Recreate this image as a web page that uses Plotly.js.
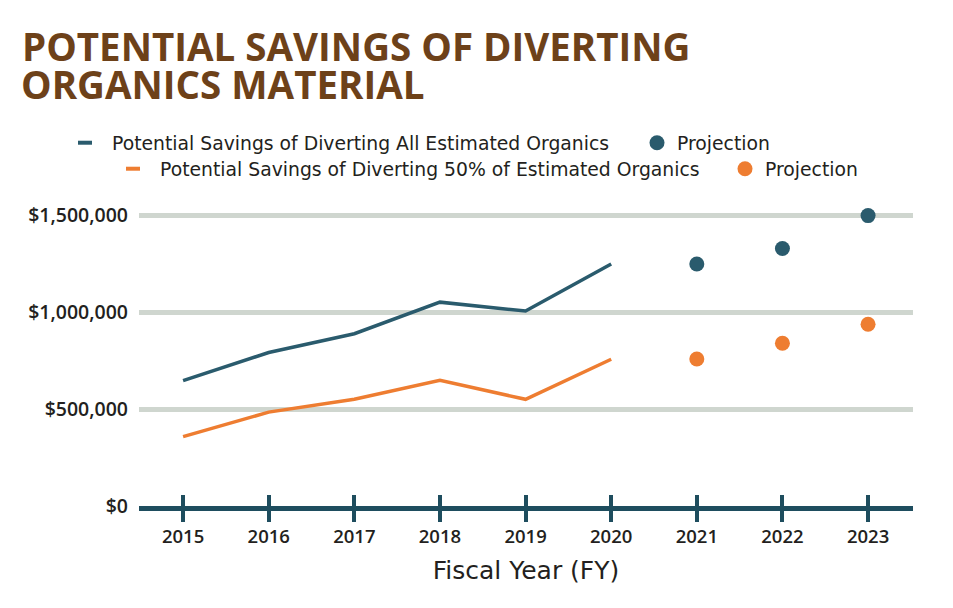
<!DOCTYPE html>
<html>
<head>
<meta charset="utf-8">
<script src="https://cdn.plot.ly/plotly-3.0.1.min.js"></script>
<style>
  html, body { margin: 0; padding: 0; background: #fff; }
  #plotDiv { width: 953px; height: 608px; }
</style>
</head>
<body>
<div id="plotDiv"></div>
<script>
// Chart data
const histYears = [2015, 2016, 2017, 2018, 2019, 2020];
const allOrganics = [648000, 793000, 890000, 1053000, 1007000, 1250000];
const halfOrganics = [358000, 485000, 551000, 649000, 551000, 758000];

const projYears = [2021, 2022, 2023];
const allProjection = [1250000, 1330000, 1500000];
const halfProjection = [759000, 841000, 939000];

const yearTicks = [2015, 2016, 2017, 2018, 2019, 2020, 2021, 2022, 2023];
const dollarTicks = [0, 500000, 1000000, 1500000];

const seriesNames = [
  "Potential Savings of Diverting All Estimated Organics",
  "Potential Savings of Diverting 50% of Estimated Organics",
];
const titleLines = ["POTENTIAL SAVINGS OF DIVERTING", "ORGANICS MATERIAL"];

// Colors
const blue = "#2a5b6d";
const orange = "#ee7d31";
const axisColor = "#1e4d5e";
const textColor = "#231f20";
const brown = "#6d4119";

const titleFont = { family: "Open Sans", size: 38.5, color: brown, weight: 700 };
const xTickFont = { family: "Open Sans", size: 18.5, color: textColor, weight: 600 };
const yTickFont = { family: "Open Sans", size: 19.5, color: textColor, weight: 600 };

let traces = [
  // actual lines
  {
    x: histYears, y: allOrganics, mode: "lines", type: "scatter",
    line: { color: blue, width: 3.5 }, showlegend: false,
  },
  {
    x: histYears, y: halfOrganics, mode: "lines", type: "scatter",
    line: { color: orange, width: 3.5 }, showlegend: false,
  },
  // projections (on the overlaid axis that carries the upper half of the ticks)
  {
    x: projYears, y: allProjection, mode: "markers", type: "scatter", xaxis: "x2",
    marker: { color: blue, size: 15 }, cliponaxis: false,
    name: "Projection", legend: "legend2",
  },
  {
    x: projYears, y: halfProjection, mode: "markers", type: "scatter", xaxis: "x2",
    marker: { color: orange, size: 15 }, cliponaxis: false,
    name: "Projection", legend: "legend4",
  },
  // short dash legend keys for the lines
  {
    x: [null], y: [null], mode: "markers", type: "scatter",
    marker: { symbol: "line-ew", size: 10, line: { color: blue, width: 4 } },
    name: seriesNames[0], legend: "legend",
  },
  {
    x: [null], y: [null], mode: "markers", type: "scatter",
    marker: { symbol: "line-ew", size: 10, line: { color: orange, width: 4 } },
    name: seriesNames[1], legend: "legend3",
  },
];

// px, py = centre of the legend key in the picture
function legendAt(px, py, itemwidth) {
  let iw = itemwidth || 30;
  return {
    xref: "container", yref: "container",
    x: (px - iw / 2 - 5) / 953, y: 1 - py / 608,
    xanchor: "left", yanchor: "middle",
    orientation: "h",
    itemwidth: iw,
    bgcolor: "rgba(0,0,0,0)",
    font: { family: "DejaVu Sans", size: 18.8, color: textColor },
  };
}

let xRange = [2014.485, 2023.525];

let layout = {
  width: 953,
  height: 608,
  paper_bgcolor: "#fff",
  plot_bgcolor: "#fff",
  margin: { l: 139, r: 40, t: 204, b: 102 },
  title: {
    text: titleLines[0],
    xref: "container", yref: "container",
    x: 22 / 953, xanchor: "left",
    y: 1 - 47.5 / 608, yanchor: "middle",
    font: titleFont,
  },
  annotations: [
    {
      text: titleLines[1],
      xref: "paper", yref: "paper",
      x: (19 - 139) / 774, xanchor: "left",
      y: (506 - 84.5) / 302, yanchor: "middle",
      showarrow: false,
      font: titleFont,
    },
  ],
  xaxis: {
    range: xRange,
    tickvals: yearTicks,
    ticks: "outside", ticklen: 11, tickwidth: 4, tickcolor: axisColor,
    showline: true, linecolor: axisColor, linewidth: 5,
    showgrid: false, zeroline: false,
    tickfont: xTickFont,
    ticklabelstandoff: -1,
    title: {
      text: "Fiscal Year (FY)",
      font: { family: "DejaVu Sans", size: 25, color: textColor },
      standoff: 16,
    },
  },
  xaxis2: {
    range: xRange,
    overlaying: "x", anchor: "y", side: "bottom",
    tickvals: yearTicks,
    ticks: "inside", ticklen: 11, tickwidth: 4, tickcolor: axisColor,
    showticklabels: false, showline: false, showgrid: false, zeroline: false,
  },
  yaxis: {
    range: [0, 1560000],
    tickvals: dollarTicks,
    tickformat: "$,.0f",
    showgrid: true, gridcolor: "#cfd6cf", gridwidth: 5,
    zeroline: false, showline: false, ticks: "",
    tickfont: yTickFont,
    ticklabelstandoff: 10,
  },
  legend: legendAt(85, 143, 44),
  legend2: legendAt(657, 143),
  legend3: legendAt(133, 169, 44),
  legend4: legendAt(745, 169),
};

Plotly.newPlot("plotDiv", traces, layout, { displayModeBar: false, staticPlot: true });
</script>
</body>
</html>
